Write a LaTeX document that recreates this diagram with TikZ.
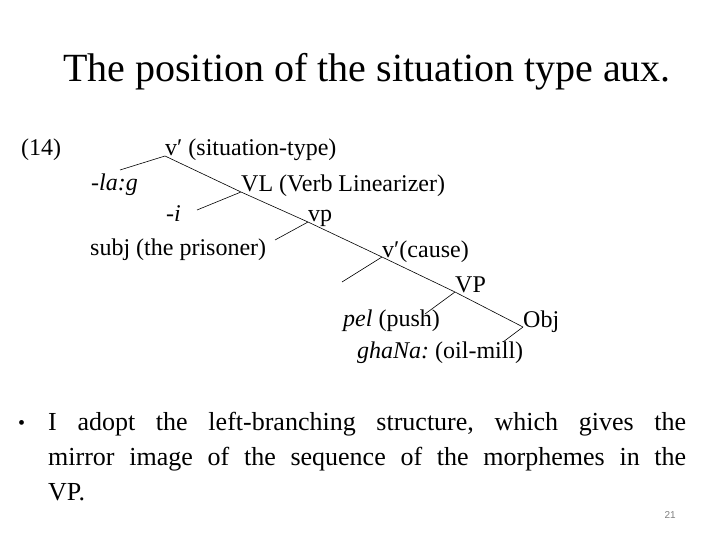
\documentclass[tikz,border=0pt]{standalone}
\usepackage{fontspec}
\setmainfont{Liberation Serif}
\newfontfamily\numfont{Liberation Sans}
\tikzset{
  word/.style = {
    anchor=base west, inner sep=0pt,
    font=\fontsize{24}{28}\selectfont
  },
  branch/.style = {
    draw, line width=.6pt
  }
}

\begin{document}
\frenchspacing
\begin{tikzpicture}[x=1pt, y=-1pt]
    \useasboundingbox (0,0) rectangle (720,540);
    % le titre
    \node[anchor=base west, inner sep=0pt, font=\fontsize{40}{48}\selectfont]
      (title) at (63,82) {The position of the situation type aux.};
    % les noeuds de l'arbre
    \path
      (21,156)  node[word] (ex)   {(14)}
      (165,156) node[word] (vst)  {v′ (situation-type)}
      (91,191)  node[word] (lag)  {\itshape -la:g}
      (241,192) node[word] (vl)   {VL (Verb Linearizer)}
      (166,222) node[word] (i)    {\itshape -i}
      (308,222) node[word] (vp)   {vp}
      (90,255)  node[word] (subj) {subj (the prisoner)}
      (382,257) node[word] (vc)   {v′(cause)}
      (455,292) node[word] (VP)   {VP}
      (343,326) node[word] (pel)  {\textit{pel} (push)}
      (523,327) node[word] (obj)  {Obj}
      (357,358) node[word] (gha)  {\textit{ghaNa:} (oil-mill)}
    ;
    % les bouts des branches gauches
    \path
      (120,170) coordinate (lagE)
      (197,210) coordinate (iE)
      (275,240) coordinate (subjE)
      (342,282) coordinate (vcE)
      (425,314) coordinate (pelE)
      (503,342) coordinate (ghaE)
    ;
    % les branches
    \path[branch]
      (vst.base west) -- (vl.base west) -- (vp.base west)
        -- (vc.base west) -- (VP.base west) -- (obj.base west)
      (vst.base west) -- (lagE)
      (vl.base west)  -- (iE)
      (vp.base west)  -- (subjE)
      (vc.base west)  -- (vcE)
      (VP.base west)  -- (pelE)
      (obj.base west) -- (ghaE)
    ;
    % le texte
    \node[anchor=base west, inner sep=0pt, font=\fontsize{20}{24}\selectfont]
      (bul) at (18,429) {•};
    \node[anchor=base west, inner sep=0pt, text width=638pt, align=justify,
      font=\fontsize{26}{35}\selectfont]
      (txt) at (48,430) {I adopt the left-branching structure, which gives the\linebreak
      mirror image of the sequence of the morphemes in the\linebreak VP.};
    % numero
    \node[anchor=base east, inner sep=0pt, text=gray,
      font=\numfont\fontsize{10}{12}\selectfont]
      (num) at (676,518) {21};
  \end{tikzpicture}
\end{document}
